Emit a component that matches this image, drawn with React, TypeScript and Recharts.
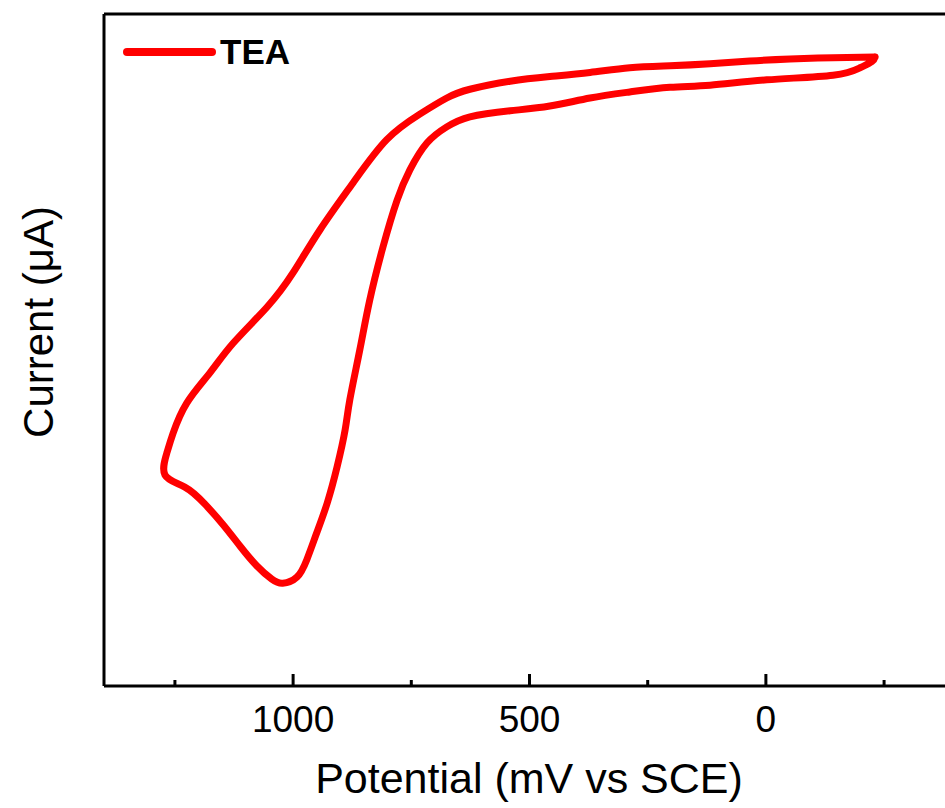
import React from 'react';
import { LineChart, Line, XAxis, YAxis, Legend, Label, ReferenceLine } from 'recharts';

// potential (mV vs SCE) and current (arbitrary units) traced around the CV loop
const potential = [
  -231, -142, -51, 34, 118, 203, 288, 372, 457, 541, 626, 675, 732, 802, 873, 943, 1000, 1055, 1127,
  1176, 1225, 1254, 1267, 1271,
  1229, 1187, 1148, 1112, 1077, 1045, 1022, 992, 971, 950, 928, 907, 890, 880, 859, 838, 810, 780,
  753, 717, 675, 626, 541, 457, 372, 288, 203, 118, -2, -142, -199, -224, -231,
];
const current = [
  93.6, 93.5, 93.3, 93.0, 92.6, 92.3, 92.0, 91.3, 90.7, 90.0, 88.8, 87.5, 85.1, 81.3, 74.9, 67.9,
  61.5, 56.4, 51.0, 46.6, 42.1, 37.6, 34.7, 31.4,
  29.6, 27.1, 24.0, 20.8, 17.9, 15.9, 15.3, 16.2, 18.8, 22.8, 27.2, 32.6, 38.1, 42.6, 50.0, 57.4,
  65.3, 72.3, 76.8, 80.8, 83.2, 84.7, 85.6, 86.3, 87.5, 88.4, 89.1, 89.4, 90.2, 90.9, 92.0, 92.9,
  93.6,
];
const xTicks = [1250, 1000, 750, 500, 250, 0, -250];
const majorTicks = [1000, 500, 0];
const seriesName = 'TEA';

const data = potential.map((p, i) => ({ p, c: current[i] }));

const FONT = '"Liberation Sans", Arial, sans-serif';

const XTick = (props: any) => {
  const { x, y, payload } = props;
  const major = majorTicks.includes(payload.value);
  return (
    <g>
      <line x1={x} x2={x} y1={y} y2={y - (major ? 12 : 6)} stroke="#000" strokeWidth={3} />
      {major && (
        <text x={x} y={y + 46} textAnchor="middle" fontSize={37} fontFamily={FONT} fill="#000">
          {payload.value}
        </text>
      )}
    </g>
  );
};

const LegendBox = () => (
  <svg width={220} height={60}>
    <line x1={9} y1={30} x2={94} y2={30} stroke="#ff0000" strokeWidth={8} strokeLinecap="round" />
    <text x={102} y={42} fontSize={35} fontWeight="bold" fontFamily={FONT} fill="#000">
      {seriesName}
    </text>
  </svg>
);

export default function App() {
  return (
    <div
      style={{
        position: 'fixed',
        left: 0,
        top: 0,
        width: 945,
        height: 808,
        overflow: 'hidden',
        background: '#fff',
      }}
    >
      <LineChart width={980} height={808} data={data} margin={{ top: 14, right: 25, bottom: 0, left: 0 }}>
        <XAxis
          dataKey="p"
          type="number"
          domain={[-400, 1400]}
          reversed
          ticks={xTicks}
          interval={0}
          height={122}
          tickSize={0}
          tickMargin={0}
          tickLine={false}
          tick={<XTick />}
          axisLine={{ stroke: '#000', strokeWidth: 3 }}
          allowDataOverflow
        >
          <Label
            content={() => (
              <text x={529} y={793} textAnchor="middle" fontSize={43} fontFamily={FONT} fill="#000">
                Potential (mV vs SCE)
              </text>
            )}
          />
        </XAxis>
        <YAxis
          type="number"
          domain={[0, 100]}
          width={104}
          tick={false}
          tickLine={false}
          axisLine={{ stroke: '#000', strokeWidth: 3 }}
        >
          <Label
            content={() => (
              <text
                x={53}
                y={322}
                transform="rotate(-90 53 322)"
                textAnchor="middle"
                fontSize={42}
                fontFamily={FONT}
                fill="#000"
              >
                Current (μA)
              </text>
            )}
          />
        </YAxis>
        <ReferenceLine y={100} stroke="#000" strokeWidth={3} ifOverflow="visible" />
        <Legend
          verticalAlign="middle"
          layout="horizontal"
          content={() => <LegendBox />}
          wrapperStyle={{ left: 118, top: 22, width: 220, height: 60 }}
        />
        <Line
          dataKey="c"
          type="natural"
          stroke="#ff0000"
          strokeWidth={7}
          strokeLinejoin="round"
          strokeLinecap="round"
          dot={false}
          isAnimationActive={false}
          name={seriesName}
        />
      </LineChart>
    </div>
  );
}
